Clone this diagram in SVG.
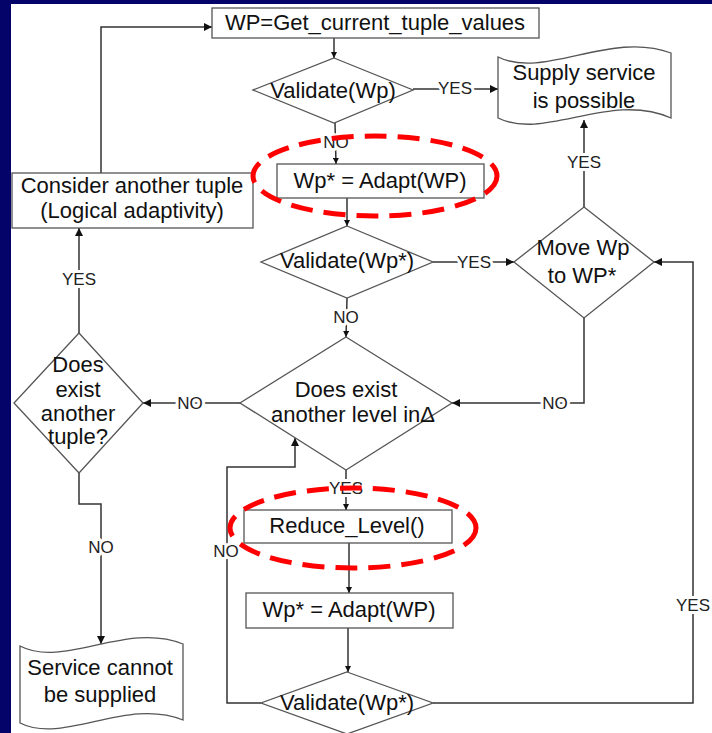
<svg xmlns="http://www.w3.org/2000/svg" width="712" height="733" viewBox="0 0 712 733">
  <defs>
    <marker id="ah" viewBox="0 0 10 10" refX="10" refY="5" markerWidth="10" markerHeight="8" markerUnits="userSpaceOnUse" orient="auto">
      <path d="M0,0 L10,5 L0,10 Z" fill="#111"/>
    </marker>
    <marker id="ahs" viewBox="0 0 10 10" refX="10" refY="5" markerWidth="6" markerHeight="6" markerUnits="userSpaceOnUse" orient="auto">
      <path d="M0,0 L10,5 L0,10 Z" fill="#111"/>
    </marker>
  </defs>
  <style>
    .shape { fill: #fff; stroke: #555; stroke-width: 1.3; }
    .t { font-family: "Liberation Sans", Arial, sans-serif; font-size: 22px; fill: #111; text-anchor: middle; }
    .lbl { font-family: "Liberation Sans", Arial, sans-serif; font-size: 17px; fill: #222; text-anchor: middle; paint-order: stroke; stroke: #fff; stroke-width: 6px; stroke-linejoin: round; }
    .c { fill: none; stroke: #333; stroke-width: 1.5; }
    .big { marker-end: url(#ah); }
    .sm { marker-end: url(#ahs); }
    .hl { fill: none; stroke: #f00; stroke-width: 5; stroke-dasharray: 22 11; }
  </style>

  <!-- backdrop -->
  <rect x="0" y="0" width="712" height="733" fill="#03036a"/>
  <rect x="11" y="4" width="701" height="729" fill="#fff"/>

  <!-- connectors -->
  <g id="connectors">
    <polyline class="c big" points="101,173 101,27 212,27"/>
    <line class="c sm" x1="334" y1="38" x2="334" y2="58"/>
    <line class="c big" x1="413" y1="89" x2="498" y2="89"/>
    <line class="c sm" x1="335" y1="123" x2="336" y2="164"/>
    <line class="c sm" x1="347" y1="198" x2="347" y2="226"/>
    <line class="c big" x1="433" y1="262" x2="514" y2="262"/>
    <line class="c big" x1="584" y1="207" x2="584" y2="120"/>
    <line class="c sm" x1="347" y1="298" x2="346" y2="337"/>
    <polyline class="c big" points="584,318 584,403 452,403"/>
    <line class="c big" x1="240" y1="403" x2="143" y2="403"/>
    <line class="c big" x1="79" y1="333" x2="79" y2="228"/>
    <polyline class="c big" points="79,473 79,504 101,504 101,644"/>
    <line class="c sm" x1="346" y1="470" x2="346" y2="510"/>
    <line class="c sm" x1="349" y1="543" x2="349" y2="593"/>
    <line class="c sm" x1="348" y1="628" x2="348" y2="672"/>
    <polyline class="c big" points="261,703 227,703 227,467 295,467 295,438"/>
    <polyline class="c big" points="433,703 693,703 693,262 654,262"/>

    <text class="lbl" x="455" y="94">YES</text>
    <text class="lbl" x="336" y="148">NO</text>
    <text class="lbl" x="474" y="268">YES</text>
    <text class="lbl" x="584" y="168">YES</text>
    <text class="lbl" x="346" y="323">NO</text>
    <text class="lbl" x="555" y="409">NO</text>
    <text class="lbl" x="190" y="409">NO</text>
    <text class="lbl" x="79" y="285">YES</text>
    <text class="lbl" x="101" y="553">NO</text>
    <text class="lbl" x="346" y="494">YES</text>
    <text class="lbl" x="226" y="557">NO</text>
    <text class="lbl" x="693" y="611">YES</text>
  </g>

  <g id="get-values">
    <rect class="shape" x="212" y="8" width="327" height="30"/>
    <text class="t" x="375" y="30">WP=Get_current_tuple_values</text>
  </g>

  <g id="validate-wp">
    <polygon class="shape" points="334,58 413,90 334,123 253,90"/>
    <text class="t" x="333" y="98">Validate(Wp)</text>
  </g>

  <g id="supply-possible">
    <path class="shape" d="M498,57 C545,80 610,30 671,53 L671,118 C610,91 545,141 498,118 Z"/>
    <text class="t" x="584" y="80">Supply service</text>
    <text class="t" x="584" y="108">is possible</text>
  </g>

  <g id="adapt-1">
    <rect class="shape" x="277" y="164" width="207" height="34"/>
    <text class="t" x="380" y="188">Wp* = Adapt(WP)</text>
  </g>

  <g id="consider-tuple">
    <rect class="shape" x="12" y="173" width="241" height="55"/>
    <text class="t" x="132" y="193">Consider another tuple</text>
    <text class="t" x="132" y="218">(Logical adaptivity)</text>
  </g>

  <g id="validate-wp-star-1">
    <polygon class="shape" points="347,226 433,262 347,298 261,262"/>
    <text class="t" x="347" y="268">Validate(Wp*)</text>
  </g>

  <g id="move-wp">
    <polygon class="shape" points="584,207 654,262 584,318 514,262"/>
    <text class="t" x="583" y="255">Move Wp</text>
    <text class="t" x="582" y="283">to WP*</text>
  </g>

  <g id="another-level">
    <polygon class="shape" points="346,337 452,403 346,470 240,403"/>
    <text class="t" x="346" y="397">Does exist</text>
    <text class="t" x="353" y="422">another level inΔ</text>
  </g>

  <g id="another-tuple">
    <polygon class="shape" points="79,333 143,403 79,473 14,403"/>
    <text class="t" x="78" y="372">Does</text>
    <text class="t" x="78" y="397">exist</text>
    <text class="t" x="78" y="421">another</text>
    <text class="t" x="78" y="444">tuple?</text>
  </g>

  <g id="reduce-level">
    <rect class="shape" x="244" y="510" width="208" height="33"/>
    <text class="t" x="347" y="533">Reduce_Level()</text>
  </g>

  <g id="adapt-2">
    <rect class="shape" x="246" y="593" width="207" height="35"/>
    <text class="t" x="349" y="617">Wp* = Adapt(WP)</text>
  </g>

  <g id="validate-wp-star-2">
    <polygon class="shape" points="347,672 433,703 347,734 261,703"/>
    <text class="t" x="347" y="710">Validate(Wp*)</text>
  </g>

  <g id="cannot-supply">
    <path class="shape" d="M20,646 C64,669 126,621 183,644 L183,720 C126,697 64,745 20,723 Z"/>
    <text class="t" x="100" y="675">Service cannot</text>
    <text class="t" x="100" y="702">be supplied</text>
  </g>

  <!-- highlighted steps -->
  <g id="highlights">
    <ellipse class="hl" cx="375" cy="176" rx="122" ry="40"/>
    <ellipse class="hl" cx="353" cy="528" rx="123" ry="40"/>
  </g>
</svg>
